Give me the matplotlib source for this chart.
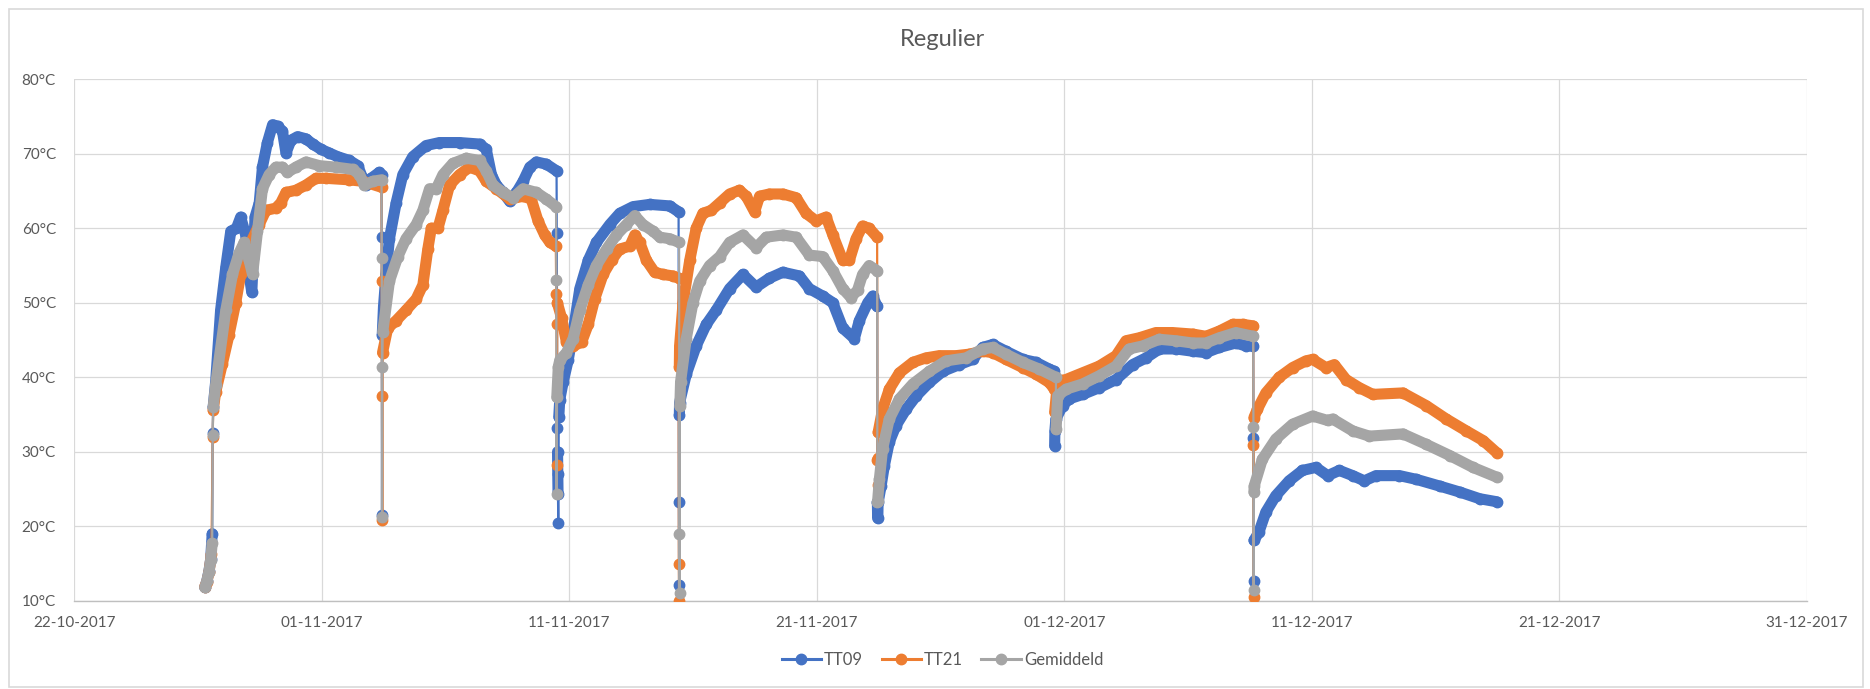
import matplotlib
matplotlib.use("Agg")
import matplotlib.pyplot as plt
import matplotlib.dates as mdates
from matplotlib.lines import Line2D
from matplotlib.patches import Rectangle
import pandas as pd

plt.rcParams['font.family'] = ['Lato', 'DejaVu Sans']

# dagen vanaf 22-10-2017, temperatuur in graden C
START = '2017-10-22'

tt09_dag = [5.28, 5.36, 5.45, 5.52, 5.58, 5.60, 5.62, 5.72, 5.92, 6.13, 6.33, 6.56, 6.73, 6.94, 7.07,
            7.18, 7.24, 7.31, 7.48, 7.61, 7.81, 8.02, 8.22, 8.42, 8.56, 8.76, 9.03, 9.37, 9.64, 9.97,
            10.31, 10.65, 11.12, 11.46, 11.66, 11.79, 12.00, 12.33, 12.42,
            12.43, 12.44, 12.45, 12.50, 12.60, 12.74, 13.01, 13.28, 13.68, 14.22, 14.76, 15.57, 16.38,
            16.65, 16.86, 17.06, 17.33, 17.60, 17.87, 18.14, 18.41, 18.68, 19.08, 19.49,
            19.50, 19.52, 19.53, 19.54, 19.55, 19.56, 19.58, 19.62, 19.76, 19.96, 20.16, 20.43, 20.77,
            21.10, 21.64, 22.04, 22.58, 23.25, 24.06, 24.42,
            24.43, 24.44, 24.45, 24.46, 24.73, 25.13, 25.54, 25.94, 26.48, 27.02, 27.55, 28.09, 28.63,
            29.30, 29.70, 30.24, 30.65, 31.05, 31.52, 31.72, 32.06, 32.26, 32.44,
            32.45, 32.46, 32.48, 32.60, 32.73, 32.93, 33.20, 33.61, 34.02, 34.55, 35.09, 35.76, 36.30,
            36.70, 37.11, 37.64, 38.32, 38.86, 39.39, 39.60,
            39.61, 39.62, 39.66, 39.93, 40.20, 40.74, 41.41, 42.09, 42.76, 43.30, 43.84, 44.51, 45.18,
            45.72, 46.26, 46.93, 47.34, 47.63,
            47.64, 47.65, 47.66, 47.86, 48.14, 48.54, 49.08, 49.62, 50.16, 50.64, 51.11, 51.65, 52.12,
            52.59, 53.54, 54.22, 55.16, 55.97, 56.78, 57.46]
tt09_temp = [11.8, 12.6, 14.0, 15.6, 19.0, 32.5, 36.0, 39.4, 49.0, 54.8, 59.6, 60.0, 61.5, 59.0, 53.8,
             51.4, 56.0, 61.5, 63.4, 68.2, 71.5, 73.9, 73.7, 73.0, 70.1, 71.8, 72.3, 72.0, 71.3, 70.6,
             70.1, 69.6, 69.1, 68.4, 66.7, 65.8, 66.7, 67.5, 67.2,
             58.8, 21.5, 45.7, 49.5, 53.8, 58.6, 63.4, 67.2, 69.6, 71.1, 71.5, 71.5, 71.3,
             70.6, 67.2, 65.8, 64.8, 63.6, 64.8, 66.3, 68.2, 68.9, 68.6, 67.7,
             59.3, 33.2, 30.0, 27.0, 24.4, 20.4, 34.7, 37.0, 39.4, 42.3, 46.1, 51.9, 55.7,
             58.1, 60.5, 62.0, 62.9, 63.2, 63.0, 62.2,
             23.2, 12.1, 34.9, 36.6, 40.4, 44.2, 47.1, 49.0, 51.9, 53.8, 52.1, 53.3, 54.1,
             53.6, 51.9, 50.9, 50.0, 46.6, 45.2, 47.6, 50.0, 50.9, 49.5,
             23.2, 21.1, 23.2, 25.4, 28.1, 31.3, 33.5, 35.7, 37.5, 39.3, 40.8, 41.7, 42.4,
             44.0, 44.4, 43.5, 42.4, 42.0, 41.1, 40.8,
             30.8, 32.8, 34.4, 36.2, 37.1, 37.7, 38.6, 39.7, 41.7, 42.6, 43.8, 43.8, 43.5,
             43.3, 44.0, 44.6, 44.2, 44.2,
             31.9, 12.7, 18.1, 19.2, 21.9, 24.1, 26.1, 27.5, 27.9, 26.8, 27.5, 26.8, 26.1,
             26.8, 26.8, 26.3, 25.4, 24.6, 23.7, 23.3]

tt21_dag = [5.28, 5.36, 5.45, 5.55, 5.60, 5.62, 5.72, 5.99, 6.26, 6.53, 6.73, 6.94, 7.21, 7.48, 7.75,
            8.15, 8.35, 8.56, 8.96, 9.37, 9.77, 10.18, 11.12, 11.66, 12.42,
            12.43, 12.44, 12.45, 12.46, 12.67, 13.01, 13.41, 13.82, 14.09, 14.29, 14.43, 14.70, 14.90,
            15.17, 15.57, 15.98, 16.38, 16.65, 17.06, 17.60, 18.14, 18.47, 18.74, 19.01, 19.22, 19.46,
            19.48, 19.49, 19.50, 19.52, 19.69, 19.89, 20.16, 20.50, 20.77, 21.03, 21.37, 21.71, 22.04,
            22.45, 22.65, 22.85, 23.12, 23.45, 23.79, 24.19, 24.42,
            24.43, 24.44, 24.45, 24.46, 24.60, 24.87, 25.13, 25.40, 25.74, 26.08, 26.48, 26.88, 27.15,
            27.49, 27.69, 28.09, 28.63, 29.17, 29.57, 29.97, 30.38, 30.65, 31.05, 31.32, 31.59, 31.85,
            32.12, 32.44,
            32.45, 32.46, 32.47, 32.48, 32.66, 32.93, 33.34, 33.88, 34.41, 34.95, 35.63, 36.16, 36.70,
            37.11, 37.64, 38.32, 38.86, 39.39, 39.60,
            39.61, 39.73, 40.07, 40.74, 41.41, 42.09, 42.49, 43.03, 43.70, 44.37, 45.18, 45.72, 46.26,
            46.80, 47.20, 47.63,
            47.64, 47.65, 47.66, 47.80, 48.14, 48.68, 49.22, 49.76, 50.03, 50.57, 50.91, 51.38, 51.92,
            52.46, 53.68, 54.62, 55.43, 56.24, 56.92, 57.46]
tt21_temp = [11.9, 12.5, 13.8, 16.3, 32.0, 35.6, 38.0, 41.8, 45.7, 50.0, 53.8, 55.7, 58.6, 60.5, 62.4,
             62.7, 63.4, 64.8, 65.1, 65.8, 66.7, 66.7, 66.5, 66.3, 65.5,
             52.9, 37.5, 20.8, 43.3, 46.6, 47.6, 49.0, 50.5, 52.4, 57.2, 60.0, 60.0, 62.4,
             65.8, 67.2, 68.2, 67.7, 66.3, 65.3, 63.9, 64.3, 63.9, 61.0, 59.1, 58.1, 57.6,
             51.2, 47.1, 28.2, 50.0, 48.0, 44.7, 44.2, 44.7, 47.1, 50.5, 53.8, 55.7, 57.2,
             57.6, 59.1, 58.1, 55.7, 54.1, 53.8, 53.6, 53.3,
             14.9, 10.0, 41.4, 44.2, 50.0, 55.7, 60.0, 62.0, 62.4, 63.4, 64.6, 65.1, 64.3,
             62.2, 64.3, 64.6, 64.6, 64.1, 62.0, 61.0, 61.5, 59.1, 55.7, 55.7, 58.6, 60.3,
             60.0, 58.8,
             28.9, 25.6, 29.2, 32.6, 35.7, 38.4, 40.6, 42.0, 42.6, 42.9, 42.9, 43.1, 43.5,
             43.3, 42.4, 41.3, 40.4, 39.3, 38.4,
             35.3, 39.5, 39.7, 40.6, 41.5, 42.9, 44.9, 45.3, 46.0, 46.0, 45.8, 45.5, 46.2,
             47.1, 47.1, 46.9,
             30.9, 10.5, 34.6, 35.7, 37.9, 40.0, 41.3, 42.2, 42.4, 41.3, 41.7, 39.7, 38.6,
             37.7, 37.9, 36.2, 34.4, 32.8, 31.5, 29.9]

gem_dag = [5.28, 5.36, 5.45, 5.52, 5.58, 5.60, 5.62, 5.72, 6.13, 6.40, 6.67, 6.87, 7.07, 7.21, 7.41,
           7.61, 7.88, 8.15, 8.42, 8.62, 8.96, 9.37, 9.91, 10.58, 11.26, 11.53, 11.73, 12.06, 12.42,
           12.43, 12.44, 12.45, 12.47, 12.74, 13.08, 13.41, 13.82, 14.09, 14.36, 14.63, 14.90, 15.30,
           15.84, 16.38, 16.65, 16.92, 17.33, 17.73, 18.14, 18.68, 19.08, 19.47,
           19.48, 19.49, 19.50, 19.56, 19.62, 19.89, 20.16, 20.43, 20.77, 21.10, 21.51, 21.91, 22.31,
           22.65, 22.98, 23.39, 23.66, 24.06, 24.44,
           24.45, 24.46, 24.47, 24.50, 24.73, 25.00, 25.27, 25.67, 26.08, 26.48, 27.02, 27.55, 27.96,
           28.63, 29.17, 29.70, 30.24, 30.65, 31.05, 31.38, 31.65, 31.85, 32.12, 32.44,
           32.45, 32.46, 32.53, 32.66, 32.93, 33.34, 33.88, 34.55, 35.22, 36.03, 36.70, 37.11, 37.64,
           38.32, 38.99, 39.66,
           39.67, 39.73, 40.07, 40.74, 41.41, 42.09, 42.62, 43.16, 43.84, 44.51, 45.18, 45.72, 46.26,
           46.93, 47.63,
           47.64, 47.65, 47.66, 47.67, 48.00, 48.54, 49.22, 50.03, 50.64, 50.84, 51.65, 52.32, 53.68,
           54.62, 55.57, 56.51, 57.46]
gem_temp = [11.8, 12.6, 13.9, 15.5, 17.7, 32.3, 36.0, 39.0, 49.0, 53.8, 56.7, 58.1, 55.7, 53.8, 59.6,
            65.3, 67.2, 68.2, 68.2, 67.5, 68.2, 68.9, 68.4, 68.2, 67.9, 67.2, 65.8, 66.3, 66.5,
            56.0, 21.2, 41.4, 46.1, 52.9, 56.2, 58.6, 60.5, 62.4, 65.3, 65.3, 67.2, 68.7,
            69.4, 69.1, 67.7, 65.8, 64.8, 64.1, 65.3, 64.8, 63.9, 62.9,
            53.1, 24.4, 37.3, 41.4, 42.3, 43.3, 45.2, 49.0, 52.4, 55.0, 57.2, 59.1, 60.5,
            61.7, 60.5, 59.6, 58.8, 58.6, 58.1,
            18.9, 11.0, 36.1, 39.4, 45.2, 50.0, 52.9, 55.0, 56.2, 58.1, 59.1, 57.4, 58.8,
            59.1, 58.8, 56.4, 56.2, 54.3, 51.9, 50.7, 51.7, 53.8, 55.0, 54.3,
            23.2, 23.4, 26.3, 30.4, 34.4, 37.1, 39.1, 40.8, 42.2, 42.6, 43.8, 44.0, 43.1,
            42.0, 41.1, 40.0,
            33.0, 37.5, 38.4, 39.1, 40.2, 41.5, 43.8, 44.2, 45.1, 44.9, 44.6, 44.6, 45.3,
            46.0, 45.5,
            33.3, 11.4, 24.6, 25.4, 29.0, 31.7, 33.7, 34.8, 34.2, 34.4, 32.8, 32.1, 32.4,
            31.0, 29.5, 27.9, 26.6]

reeksen = ['TT09', 'TT21', 'Gemiddeld']
kleuren = ['#4472C4', '#ED7D31', '#A5A5A5']
tick_datums = ['2017-10-22', '2017-11-01', '2017-11-11', '2017-11-21',
               '2017-12-01', '2017-12-11', '2017-12-21', '2017-12-31']
y_ticks = [10, 20, 30, 40, 50, 60, 70, 80]


def stukken(dag, temp):
    # aaneengesloten stukken (de loodrechte sprongen horen er niet bij)
    out, cur = [], [0]
    for i in range(1, len(dag)):
        dy = abs(temp[i] - temp[i - 1])
        if dy > 3 and dy / max(dag[i] - dag[i - 1], 1e-6) > 150:
            out.append(cur)
            cur = []
        cur.append(i)
    out.append(cur)
    return out


fig = plt.figure(figsize=(18.7, 6.89), dpi=100)
fig.patches.append(Rectangle((0.0048, 0.003), 0.9912, 0.984, transform=fig.transFigure,
                             fill=False, edgecolor='#D9D9D9', linewidth=1.2))
ax = fig.add_axes([0.0396, 0.128, 0.9267, 0.757])

start = pd.Timestamp(START)
data = [(tt09_dag, tt09_temp), (tt21_dag, tt21_temp), (gem_dag, gem_temp)]
for n, ((dag, temp), kleur) in enumerate(zip(data, kleuren)):
    x = [start + pd.Timedelta(days=d) for d in dag]
    ax.plot(x, temp, color=kleur, lw=1.6, marker='o', ms=7.5, mec=kleur, mfc=kleur, zorder=3 + n)
    for st in stukken(dag, temp):
        if len(st) > 1:
            ax.plot([x[i] for i in st], [temp[i] for i in st], color=kleur, lw=8,
                    solid_capstyle='round', solid_joinstyle='round', zorder=3 + n)

ax.set_xlim(pd.Timestamp(tick_datums[0]), pd.Timestamp(tick_datums[-1]))
ax.set_ylim(10, 80)
ax.set_xticks([pd.Timestamp(t) for t in tick_datums])
ax.xaxis.set_major_formatter(mdates.DateFormatter('%d-%m-%Y'))
ax.set_yticks(y_ticks)
ax.set_yticklabels([f'{v}°C' for v in y_ticks])
ax.grid(True, color='#D9D9D9', lw=0.9)
ax.set_axisbelow(True)
for s in ['top', 'right', 'left']:
    ax.spines[s].set_visible(False)
ax.spines['bottom'].set_color('#BFBFBF')
ax.spines['bottom'].set_linewidth(1.0)
ax.tick_params(length=0, labelsize=11, labelcolor='#595959')
ax.tick_params(axis='x', pad=11)
ax.tick_params(axis='y', pad=13)

fig.text(0.504, 1 - 39 / 689, 'Regulier', ha='center', va='center', fontsize=17, color='#595959')

handles = [Line2D([], [], color=k, lw=2.2, marker='o', ms=7.5) for k in kleuren]
fig.legend(handles, reeksen, loc='center', bbox_to_anchor=(0.504, 0.042), ncol=3, frameon=False,
           fontsize=12, labelcolor='#595959', handlelength=2.35, handletextpad=0.2,
           columnspacing=1.1)

fig.savefig('out.png', dpi=100)
